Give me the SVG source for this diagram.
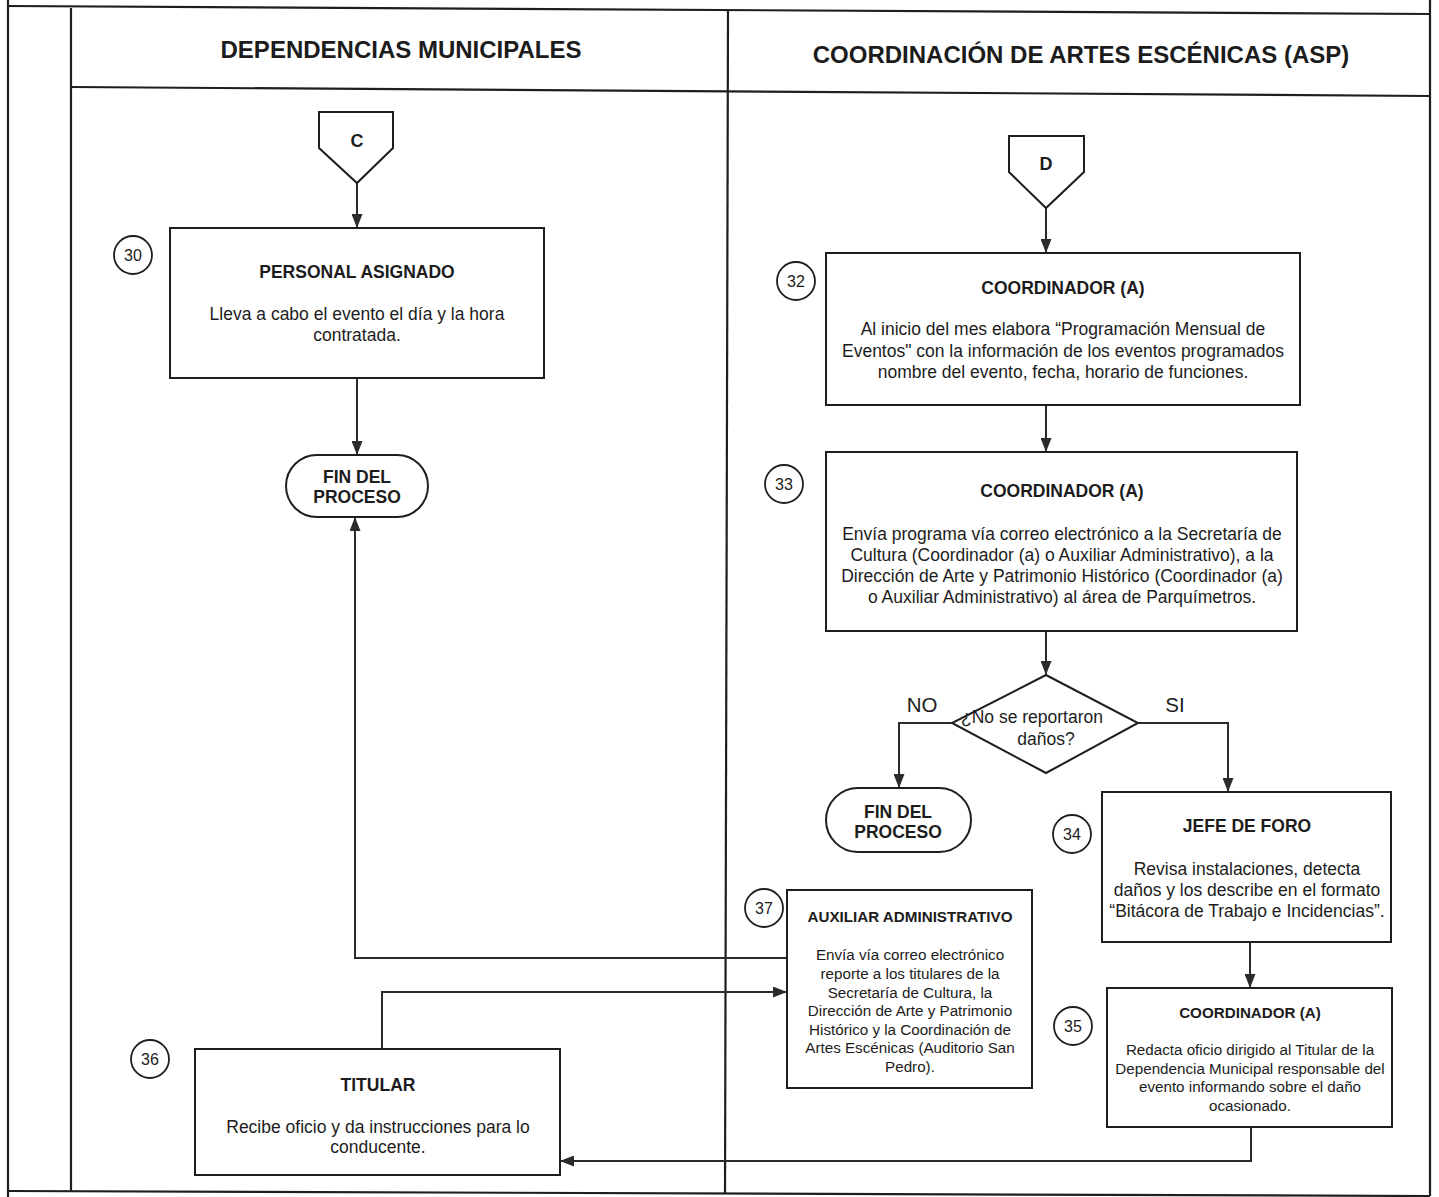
<svg xmlns="http://www.w3.org/2000/svg" width="1439" height="1197" viewBox="0 0 1439 1197">
  <defs>
    <marker id="ah" viewBox="0 0 14 11" refX="14" refY="5.5" markerWidth="14" markerHeight="11" orient="auto" markerUnits="userSpaceOnUse">
      <path d="M0,0 L14,5.5 L0,11 Z" fill="#2b2b2b"/>
    </marker>
    <style>
      text { font-family: "Liberation Sans", Arial, sans-serif; fill: #1c1c1c; }
      .frame { fill: none; stroke: #1e1e1e; stroke-width: 2.2; }
      .box { fill: #ffffff; stroke: #1e1e1e; stroke-width: 2; }
      .num { fill: #ffffff; stroke: #1e1e1e; stroke-width: 1.8; }
      .conn path { fill: none; stroke: #2b2b2b; stroke-width: 2; marker-end: url(#ah); }
      .lane { font-size: 24px; font-weight: bold; text-anchor: middle; }
      .title { font-size: 17.5px; font-weight: bold; text-anchor: middle; }
      .body { font-size: 17.5px; text-anchor: middle; }
      .stitle { font-size: 15.2px; font-weight: bold; text-anchor: middle; }
      .sbody { font-size: 15.2px; text-anchor: middle; }
      .n { font-size: 16px; text-anchor: middle; }
      .lbl { font-size: 20.5px; text-anchor: middle; }
      .ltr { font-size: 18px; font-weight: bold; text-anchor: middle; }
    </style>
  </defs>

  <rect width="1439" height="1197" fill="#ffffff"/>

  <!-- swimlane frame -->
  <g id="frame">
    <path class="frame" d="M8,0 V1197"/>
    <path class="frame" d="M8,6 L1430,14"/>
    <path class="frame" d="M71,8 V1192"/>
    <path class="frame" d="M71,87 L1430,96"/>
    <path class="frame" d="M728,10 L725,1194"/>
    <path class="frame" d="M1430,0 V1196"/>
    <path class="frame" d="M8,1191 L1430,1196"/>
    <text class="lane" x="401" y="58">DEPENDENCIAS MUNICIPALES</text>
    <text class="lane" x="1081" y="63">COORDINACIÓN DE ARTES ESCÉNICAS (ASP)</text>
  </g>

  <!-- connectors -->
  <g id="connectors" class="conn">
    <path d="M357,183 V228"/>
    <path d="M357,378 V455"/>
    <path d="M787,958 H355 V517"/>
    <path d="M1046,208 V253"/>
    <path d="M1046,405 V452"/>
    <path d="M1046,631 V675"/>
    <path d="M952,723 H899 V788"/>
    <path d="M1138,723 H1228 V792"/>
    <path d="M1250,942 V988"/>
    <path d="M1251,1127 V1161 H560"/>
    <path d="M382,1049 V992 H787"/>
  </g>

  <!-- off-page connector C -->
  <g id="conn-c">
    <path class="box" d="M319,112 H393 V148 L357,183 L319,148 Z"/>
    <text class="ltr" x="357" y="147">C</text>
  </g>

  <!-- off-page connector D -->
  <g id="conn-d">
    <path class="box" d="M1009,136 H1084 V172 L1046,208 L1009,172 Z"/>
    <text class="ltr" x="1046" y="170">D</text>
  </g>

  <!-- step 30 -->
  <g id="step-30">
    <circle class="num" cx="133" cy="255" r="19"/>
    <text class="n" x="133" y="261">30</text>
    <rect class="box" x="170" y="228" width="374" height="150"/>
    <text class="title" x="357" y="278">PERSONAL ASIGNADO</text>
    <text class="body" x="357" y="320">Lleva a cabo el evento el día y la hora</text>
    <text class="body" x="357" y="341">contratada.</text>
  </g>

  <!-- end (left lane) -->
  <g id="fin-1">
    <rect class="box" x="286" y="455" width="142" height="62" rx="31"/>
    <text class="title" x="357" y="483">FIN DEL</text>
    <text class="title" x="357" y="503">PROCESO</text>
  </g>

  <!-- step 32 -->
  <g id="step-32">
    <circle class="num" cx="796" cy="281" r="19"/>
    <text class="n" x="796" y="287">32</text>
    <rect class="box" x="826" y="253" width="474" height="152"/>
    <text class="title" x="1063" y="294">COORDINADOR (A)</text>
    <text class="body" x="1063" y="335">Al inicio del mes elabora “Programación Mensual de</text>
    <text class="body" x="1063" y="357">Eventos" con la información de los eventos programados</text>
    <text class="body" x="1063" y="378">nombre del evento, fecha, horario de funciones.</text>
  </g>

  <!-- step 33 -->
  <g id="step-33">
    <circle class="num" cx="784" cy="484" r="19"/>
    <text class="n" x="784" y="490">33</text>
    <rect class="box" x="826" y="452" width="471" height="179"/>
    <text class="title" x="1062" y="497">COORDINADOR (A)</text>
    <text class="body" x="1062" y="540">Envía programa vía correo electrónico a la Secretaría de</text>
    <text class="body" x="1062" y="561">Cultura (Coordinador (a) o Auxiliar Administrativo), a la</text>
    <text class="body" x="1062" y="582">Dirección de Arte y Patrimonio Histórico (Coordinador (a)</text>
    <text class="body" x="1062" y="603">o Auxiliar Administrativo) al área de Parquímetros.</text>
  </g>

  <!-- decision -->
  <g id="decision">
    <path class="box" d="M1046,675 L1138,723 L1046,773 L952,723 Z"/>
    <text class="body" x="1032" y="723">¿No se reportaron</text>
    <text class="body" x="1046" y="745">daños?</text>
    <text class="lbl" x="922" y="712">NO</text>
    <text class="lbl" x="1175" y="712">SI</text>
  </g>

  <!-- end (decision NO) -->
  <g id="fin-2">
    <rect class="box" x="826" y="788" width="145" height="64" rx="32"/>
    <text class="title" x="898" y="818">FIN DEL</text>
    <text class="title" x="898" y="838">PROCESO</text>
  </g>

  <!-- step 34 -->
  <g id="step-34">
    <circle class="num" cx="1072" cy="834" r="19"/>
    <text class="n" x="1072" y="840">34</text>
    <rect class="box" x="1102" y="792" width="289" height="150"/>
    <text class="title" x="1247" y="832">JEFE DE FORO</text>
    <text class="body" x="1247" y="875">Revisa instalaciones, detecta</text>
    <text class="body" x="1247" y="896">daños y los describe en el formato</text>
    <text class="body" x="1247" y="917">“Bitácora de Trabajo e Incidencias”.</text>
  </g>

  <!-- step 35 -->
  <g id="step-35">
    <circle class="num" cx="1073" cy="1026" r="19"/>
    <text class="n" x="1073" y="1032">35</text>
    <rect class="box" x="1107" y="988" width="285" height="139"/>
    <text class="stitle" x="1250" y="1018">COORDINADOR (A)</text>
    <text class="sbody" x="1250" y="1055">Redacta oficio dirigido al Titular de la</text>
    <text class="sbody" x="1250" y="1074">Dependencia Municipal responsable del</text>
    <text class="sbody" x="1250" y="1092">evento informando sobre el daño</text>
    <text class="sbody" x="1250" y="1111">ocasionado.</text>
  </g>

  <!-- step 36 -->
  <g id="step-36">
    <circle class="num" cx="150" cy="1059" r="19"/>
    <text class="n" x="150" y="1065">36</text>
    <rect class="box" x="195" y="1049" width="365" height="126"/>
    <text class="title" x="378" y="1091">TITULAR</text>
    <text class="body" x="378" y="1133">Recibe oficio y da instrucciones para lo</text>
    <text class="body" x="378" y="1153">conducente.</text>
  </g>

  <!-- step 37 -->
  <g id="step-37">
    <circle class="num" cx="764" cy="908" r="19"/>
    <text class="n" x="764" y="914">37</text>
    <rect class="box" x="787" y="890" width="245" height="198"/>
    <text class="stitle" x="910" y="922">AUXILIAR ADMINISTRATIVO</text>
    <text class="sbody" x="910" y="960">Envía vía correo electrónico</text>
    <text class="sbody" x="910" y="979">reporte a los titulares de la</text>
    <text class="sbody" x="910" y="998">Secretaría de Cultura, la</text>
    <text class="sbody" x="910" y="1016">Dirección de Arte y Patrimonio</text>
    <text class="sbody" x="910" y="1035">Histórico y la Coordinación de</text>
    <text class="sbody" x="910" y="1053">Artes Escénicas (Auditorio San</text>
    <text class="sbody" x="910" y="1072">Pedro).</text>
  </g>
</svg>
